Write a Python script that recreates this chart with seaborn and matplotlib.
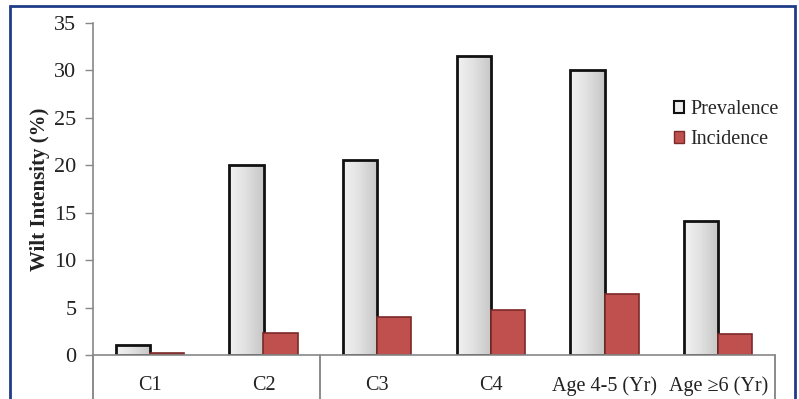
import numpy as np
import pandas as pd
import matplotlib
matplotlib.use("Agg")
import matplotlib.pyplot as plt
import seaborn as sns
from matplotlib.patches import Rectangle
from matplotlib.lines import Line2D

# Wilt intensity per class
categories = ["C1", "C2", "C3", "C4", "Age 4-5 (Yr)", "Age \u22656 (Yr)"]
prevalence = [1.1, 20.0, 20.6, 31.5, 30.0, 14.1]
incidence = [0.2, 2.3, 4.0, 4.7, 6.4, 2.2]
series = ["Prevalence", "Incidence"]
y_ticks = [0, 5, 10, 15, 20, 25, 30, 35]

df = pd.DataFrame({
    "Category": categories * 2,
    "Series": [series[0]] * len(categories) + [series[1]] * len(categories),
    "Value": prevalence + incidence,
})

sns.set_theme(style="white")
plt.rcParams["font.family"] = ["Liberation Serif", "DejaVu Serif"]

W, H = 799, 399
fig = plt.figure(figsize=(W / 100, H / 100), dpi=100)
ax = fig.add_axes([93 / W, (H - 355) / H, (775 - 93) / W, (355 - 23) / H])

red = "#c0504d"
sns.barplot(data=df, x="Category", y="Value", hue="Series", order=categories,
            hue_order=series, palette=["#d9d9d9", red], width=0.6,
            saturation=1, ax=ax, legend=False)

# styling of bars: gray gradient for prevalence, red for incidence
n = len(categories)
bars = [p for p in ax.patches if isinstance(p, Rectangle)]
grad = np.linspace(0, 1, 64).reshape(1, -1)
cmap = matplotlib.colors.LinearSegmentedColormap.from_list(
    "g", ["#f2f2f2", "#e0e0e0", "#c6c6c6"])
for i, p in enumerate(bars[:n]):
    p.set_edgecolor("#111111")
    p.set_linewidth(2.0)
    x0, y0 = p.get_x(), p.get_y()
    w, h = p.get_width(), p.get_height()
    im = ax.imshow(grad, extent=[x0, x0 + w, y0, y0 + h], cmap=cmap,
                   aspect="auto", zorder=p.get_zorder() - 0.1,
                   interpolation="bicubic")
    im.set_clip_path(p)
    p.set_facecolor("none")
for p in bars[n:]:
    p.set_edgecolor("#7a2a28")
    p.set_linewidth(1.2)

ax.set_xlim(-0.5, n - 0.5)
ax.set_ylim(0, 35)
ax.set_yticks(y_ticks)
ax.set_yticklabels([str(t) for t in y_ticks], fontsize=16, color="#222222")
ax.tick_params(axis="y", which="major", left=True, length=6, width=1,
               color="#888888", pad=6)
ax.tick_params(axis="x", bottom=False, pad=9, labelsize=14.5,
               labelcolor="#222222")
ax.set_xlabel("")
ax.set_ylabel("Wilt Intensity (%)", fontsize=15, fontweight="bold",
              color="#222222")
ax.yaxis.set_label_coords((50 - 93) / 682, 0.5)

for s in ["top", "right"]:
    ax.spines[s].set_visible(False)
for s in ["left", "bottom"]:
    ax.spines[s].set_color("#888888")
    ax.spines[s].set_linewidth(1.2)

# category-axis dividers extending below the baseline
trans = ax.get_xaxis_transform()
for xd in [-0.5, 1.5, n - 0.5]:
    ax.add_line(Line2D([xd, xd], [0, -0.2], transform=trans, color="#777777",
                       lw=1.2, clip_on=False))

handles = [Rectangle((0, 0), 1, 1, facecolor="#eeeeee", edgecolor="#111111", lw=1.5),
           Rectangle((0, 0), 1, 1, facecolor=red, edgecolor="#7a2a28", lw=1)]
fig.legend(handles, series, loc="upper left",
           bbox_to_anchor=(656 / W, 1 - 82 / H), frameon=False,
           fontsize=14.5, handlelength=0.5, handleheight=0.5,
           handletextpad=0.3, labelspacing=0.55)

# frame around the figure
fig.patches.append(Rectangle((10 / W, -0.05), (795 - 10) / W, (H - 6) / H + 0.05,
                             transform=fig.transFigure, fill=False,
                             edgecolor="#1f3c88", lw=2.0))

fig.savefig("out.png", dpi=100)
